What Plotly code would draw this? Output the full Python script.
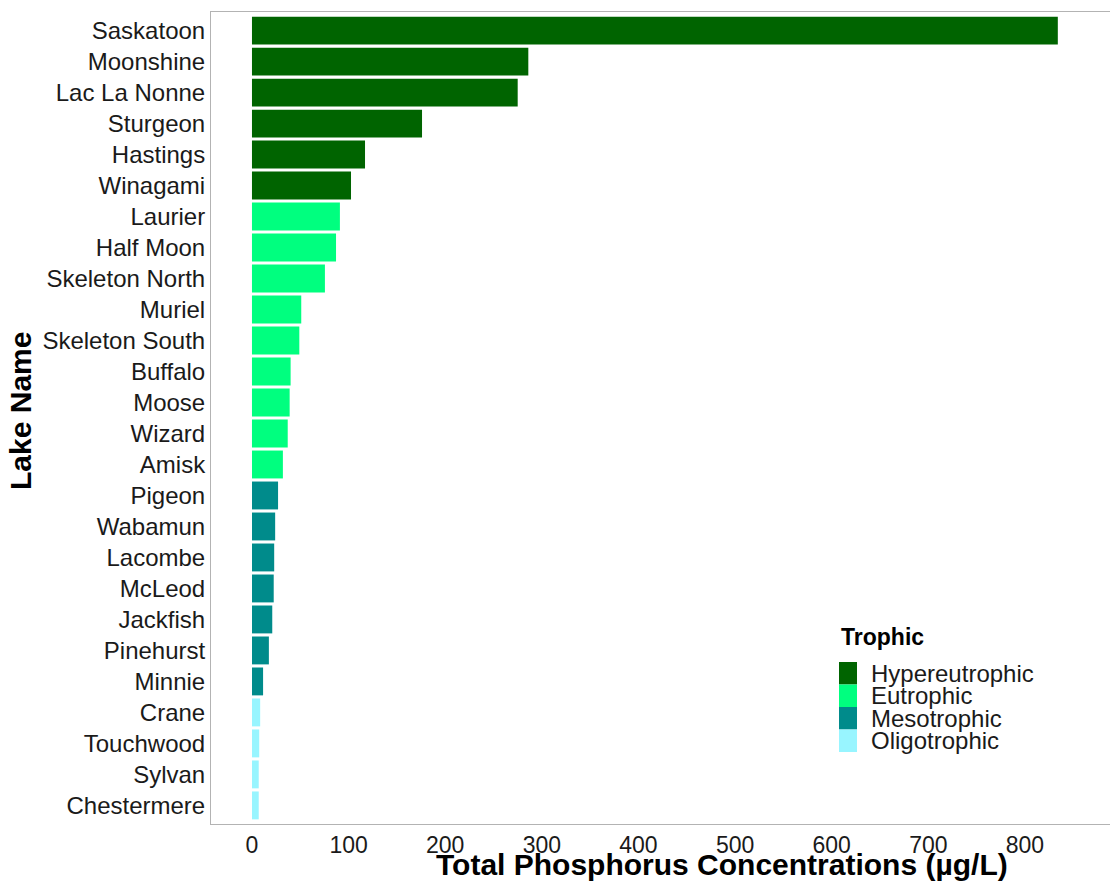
import plotly.graph_objects as go

# Total phosphorus by lake, sorted from highest to lowest
lakes = ["Saskatoon", "Moonshine", "Lac La Nonne", "Sturgeon", "Hastings", "Winagami",
         "Laurier", "Half Moon", "Skeleton North", "Muriel", "Skeleton South", "Buffalo",
         "Moose", "Wizard", "Amisk", "Pigeon", "Wabamun", "Lacombe", "McLeod", "Jackfish",
         "Pinehurst", "Minnie", "Crane", "Touchwood", "Sylvan", "Chestermere"]
tp_values = [834, 286, 275, 176, 117, 102.5,
             91, 87, 75.5, 51, 49, 40,
             39, 37, 32, 27, 24, 23, 22.5, 21,
             17.5, 11.5, 8.5, 7.5, 7, 7]
trophic = (["Hypereutrophic"] * 6 + ["Eutrophic"] * 9 +
           ["Mesotrophic"] * 7 + ["Oligotrophic"] * 4)
classes = ["Hypereutrophic", "Eutrophic", "Mesotrophic", "Oligotrophic"]
class_colors = ["#006400", "#00FF7F", "#008B8B", "#98F5FF"]
x_ticks = [0, 100, 200, 300, 400, 500, 600, 700, 800]

W, H = 1110, 882
ML, MR, MT, MB = 211, 0, 12, 58
PW, PH = W - ML - MR, H - MT - MB
FONT = "Liberation Sans, Arial, Helvetica, sans-serif"
TEXT = "#1a1a1a"


def px_x(x):
    return (x - ML) / PW


def px_y(y):
    return (H - MB - y) / PH


fig = go.Figure()
for cls, col in zip(classes, class_colors):
    ys = [l for l, t in zip(lakes, trophic) if t == cls]
    xs = [v for v, t in zip(tp_values, trophic) if t == cls]
    fig.add_trace(go.Bar(x=xs, y=ys, orientation="h", name=cls, width=0.9,
                         marker=dict(color=col, line=dict(width=0)),
                         showlegend=False))

# Legend built from shapes and text
shapes = []
annotations = []
annotations.append(dict(text="<b>Trophic</b>", x=px_x(839), y=px_y(637), xref="paper", yref="paper",
                        xanchor="left", yanchor="middle", showarrow=False,
                        font=dict(family=FONT, size=23, color="#000000")))
key_top = 662
key_h = 22.5
for i, (cls, col) in enumerate(zip(classes, class_colors)):
    y0 = key_top + i * key_h
    shapes.append(dict(type="rect", xref="paper", yref="paper",
                       x0=px_x(839), x1=px_x(857), y0=px_y(y0), y1=px_y(y0 + key_h),
                       fillcolor=col, line=dict(width=0)))
    annotations.append(dict(text=cls, x=px_x(869), y=px_y(y0 + key_h / 2), xref="paper", yref="paper",
                            xanchor="left", yanchor="middle", showarrow=False,
                            font=dict(family=FONT, size=24, color=TEXT)))

# Axis titles
annotations.append(dict(text="<b>Total Phosphorus Concentrations (µg/L)</b>",
                        x=px_x(722), y=px_y(864), xref="paper", yref="paper",
                        xanchor="center", yanchor="middle", showarrow=False,
                        font=dict(family=FONT, size=30, color="#000000")))
annotations.append(dict(text="<b>Lake Name</b>", x=px_x(20), y=px_y(411), xref="paper", yref="paper",
                        xanchor="center", yanchor="middle", showarrow=False, textangle=-90,
                        font=dict(family=FONT, size=30, color="#000000")))

fig.update_layout(
    width=W, height=H,
    margin=dict(l=ML, r=MR, t=MT, b=MB, pad=0),
    plot_bgcolor="white", paper_bgcolor="white",
    barmode="overlay",
    shapes=shapes, annotations=annotations,
    font=dict(family=FONT, color=TEXT),
    xaxis=dict(range=[-42.4, 888], tickvals=x_ticks, ticktext=[str(t) for t in x_ticks],
               showgrid=False, zeroline=False, showline=True, mirror=True,
               linecolor="#b3b3b3", linewidth=1, ticks="",
               tickfont=dict(family=FONT, size=23, color=TEXT)),
    yaxis=dict(categoryorder="array", categoryarray=lakes[::-1], range=[-0.6, 25.6],
               showgrid=False, zeroline=False, showline=True, linecolor="#b3b3b3", linewidth=1,
               ticks="", tickfont=dict(family=FONT, size=24, color=TEXT)),
)

fig.write_html("out.html")
